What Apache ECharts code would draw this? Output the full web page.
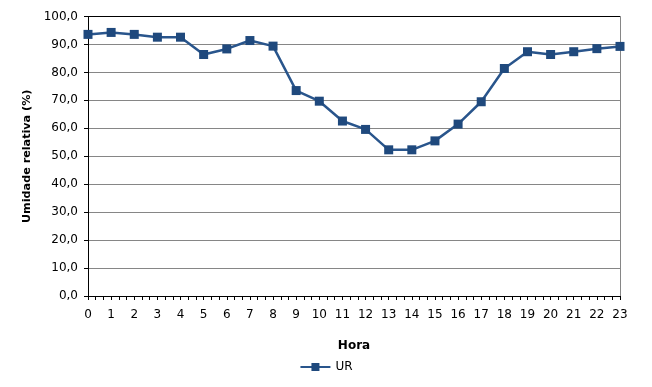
<!DOCTYPE html>
<html><head><meta charset="utf-8">
<script src="https://cdn.jsdelivr.net/npm/echarts@6/dist/echarts.min.js"></script>
<style>html,body{margin:0;padding:0;background:#fff}#c{width:652px;height:387px}</style>
</head><body><div id="c"></div>
<script>
const hours = [0,1,2,3,4,5,6,7,8,9,10,11,12,13,14,15,16,17,18,19,20,21,22,23];
const ur = [93.6,94.3,93.6,92.6,92.6,86.4,88.4,91.4,89.4,73.5,69.7,62.6,59.6,52.3,52.3,55.5,61.5,69.5,81.4,87.4,86.4,87.4,88.5,89.3];
const seriesName = 'UR';
const xTitle = 'Hora';
const yTitle = 'Umidade relativa (%)';

const font = 'DejaVu Sans';
const chart = echarts.init(document.getElementById('c'), null, {renderer: 'canvas'});
const gridColors = ['#868686','#868686','#868686','#868686','#868686','#868686','#868686','#868686','#868686','#868686','#000000'];
chart.setOption({
  animation: false,
  textStyle: {fontFamily: font},
  grid: {left: 88, right: 32, top: 16.5, bottom: 91},
  legend: {
    data: [seriesName], bottom: 9, left: 'center',
    itemWidth: 30, itemHeight: 10, itemGap: 4,
    textStyle: {fontFamily: font, fontSize: 12, color: '#000'}
  },
  xAxis: {
    type: 'value', min: 0, max: 23, interval: 1,
    name: xTitle, nameLocation: 'middle', nameGap: 44,
    nameTextStyle: {fontFamily: font, fontSize: 12, fontWeight: 'bold', color: '#000'},
    axisLine: {show: true, onZero: false, lineStyle: {color: '#000', width: 1}},
    axisTick: {show: true, length: 4, lineStyle: {color: '#000'}},
    minorTick: {show: true, splitNumber: 3, length: 4, lineStyle: {color: '#000'}},
    axisLabel: {fontFamily: font, fontSize: 12, color: '#000', margin: 13},
    splitLine: {show: false}
  },
  yAxis: [{
    type: 'value', min: 0, max: 100, interval: 10,
    name: yTitle, nameLocation: 'middle', nameGap: 55,
    nameTextStyle: {fontFamily: font, fontSize: 11.2, fontWeight: 'bold', color: '#000'},
    axisLine: {show: true, lineStyle: {color: '#000', width: 1}},
    axisTick: {show: true, length: 4, lineStyle: {color: '#000'}},
    axisLabel: {fontFamily: font, fontSize: 12, color: '#000', margin: 10,
      formatter: v => v.toFixed(1).replace('.', ',')},
    splitLine: {show: true, lineStyle: {color: gridColors, width: 1}}
  }, {
    type: 'value', min: 0, max: 100, position: 'right',
    axisLine: {show: true, lineStyle: {color: '#868686', width: 1}},
    axisTick: {show: false}, axisLabel: {show: false}, splitLine: {show: false}
  }],
  series: [{
    name: seriesName, type: 'line',
    data: hours.map((h, i) => [h, ur[i]]),
    symbol: 'rect', symbolSize: 9, showAllSymbol: true,
    lineStyle: {color: '#29558c', width: 2.5},
    itemStyle: {color: '#1f497d'}
  }]
});
</script></body></html>
